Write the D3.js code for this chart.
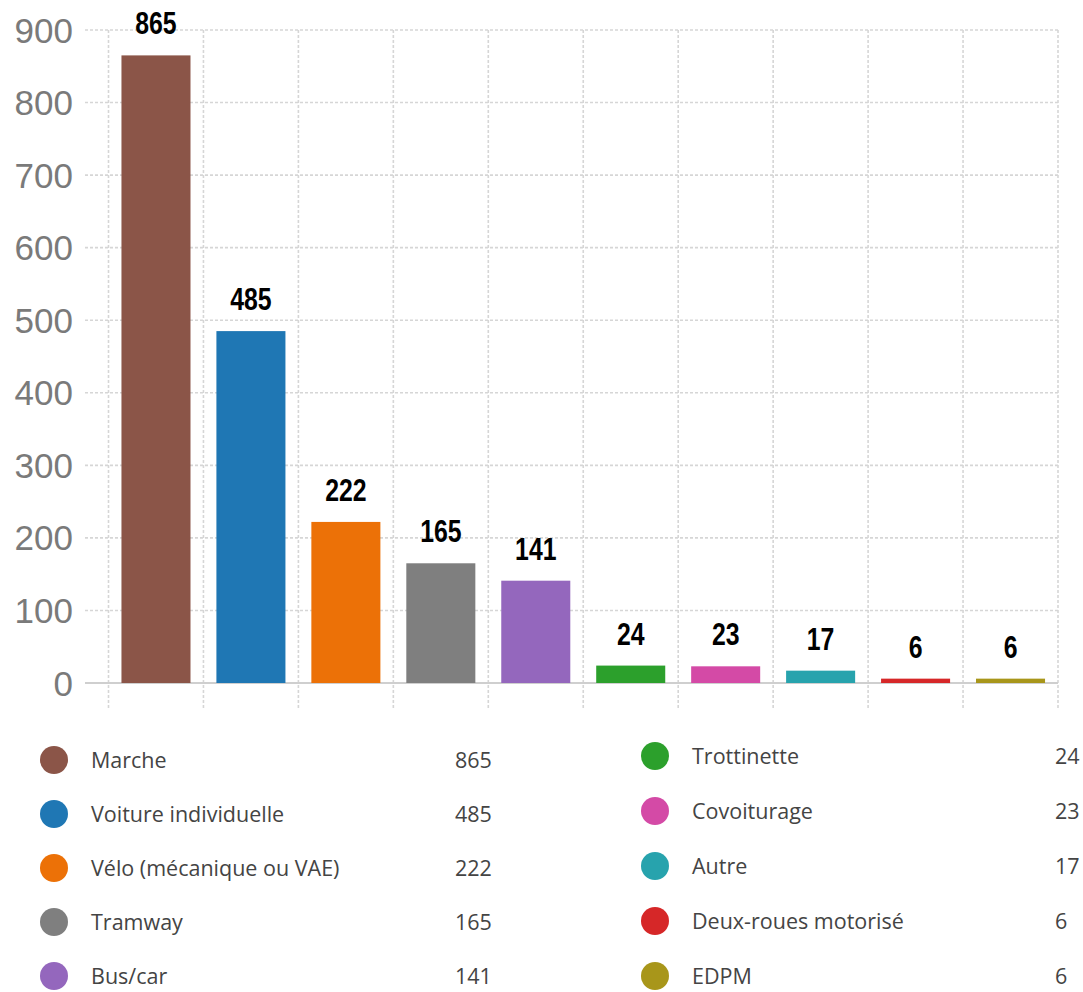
<!DOCTYPE html>
<html>
<head>
<meta charset="utf-8">
<script src="https://cdn.jsdelivr.net/npm/d3@7"></script>
<style>
  html, body { margin: 0; padding: 0; background: #fff; }
  svg { display: block; }
</style>
</head>
<body>
<svg id="chart" width="1083" height="992"></svg>
<script>
const categories = ["Marche", "Voiture individuelle", "Vélo (mécanique ou VAE)", "Tramway", "Bus/car",
                    "Trottinette", "Covoiturage", "Autre", "Deux-roues motorisé", "EDPM"];
const values = [865, 485, 222, 165, 141, 24, 23, 17, 6, 6];
const colors = ["#8b5548", "#1f77b4", "#ec7107", "#7f7f7f", "#9467bd",
                "#2ca02c", "#d44aa6", "#27a3ad", "#d62728", "#a8961a"];
const yTicks = [0, 100, 200, 300, 400, 500, 600, 700, 800, 900];

(function () {
const svg = d3.select("#chart");
const pLeft = 108.5, pRight = 1058, pTop = 30, pBottom = 683;

const x = d3.scaleBand().domain(categories).range([pLeft, pRight])
  .paddingInner(0.273).paddingOuter(0.1365);
const y = d3.scaleLinear().domain([0, 900]).range([pBottom, pTop]);
const step = x.step();
const gap = step - x.bandwidth();

// horizontal gridlines
svg.append("g").selectAll("line").data(yTicks.filter(d => d > 0)).join("line")
  .attr("x1", 85).attr("x2", pRight)
  .attr("y1", d => y(d)).attr("y2", d => y(d))
  .attr("stroke", "#d6d6d6").attr("stroke-width", 1.6).attr("stroke-dasharray", "3,2");

// vertical gridlines at band boundaries
const bounds = categories.map(c => x(c) - gap / 2).concat([pRight]);
svg.append("g").selectAll("line").data(bounds).join("line")
  .attr("x1", d => d).attr("x2", d => d)
  .attr("y1", pTop).attr("y2", pBottom + 25)
  .attr("stroke", "#d6d6d6").attr("stroke-width", 1.6).attr("stroke-dasharray", "3,2");

// baseline axis
svg.append("line").attr("x1", 85).attr("x2", pRight).attr("y1", y(0)).attr("y2", y(0))
  .attr("stroke", "#cfcfcf").attr("stroke-width", 2);

// y tick labels
svg.append("g").selectAll("text").data(yTicks).join("text")
  .attr("x", 73).attr("y", d => y(d)).attr("dy", "0.36em")
  .attr("text-anchor", "end")
  .attr("font-family", "'Liberation Sans', Arial, sans-serif")
  .attr("font-size", 35).attr("fill", "#7a7a7a")
  .text(d => d);

// bars
svg.append("g").selectAll("rect").data(values).join("rect")
  .attr("x", (d, i) => x(categories[i]))
  .attr("width", x.bandwidth())
  .attr("y", d => y(d))
  .attr("height", d => y(0) - y(d))
  .attr("fill", (d, i) => colors[i]);

// value labels (condensed bold look via horizontal scaling)
svg.append("g").selectAll("text").data(values).join("text")
  .attr("transform", (d, i) =>
    `translate(${x(categories[i]) + x.bandwidth() / 2},${y(d) - 21}) scale(0.8,1)`)
  .attr("text-anchor", "middle")
  .attr("font-family", "'Liberation Sans', Arial, sans-serif")
  .attr("font-weight", "bold")
  .attr("font-size", 31).attr("fill", "#000")
  .text(d => d);

// legend
const legendFont = "'Open Sans', 'Noto Sans', sans-serif";
const legend = svg.append("g");
categories.forEach((c, i) => {
  const col = i < 5 ? 0 : 1;
  const row = i % 5;
  const cx = col === 0 ? 54 : 655;
  const cy = (col === 0 ? 760 : 756) + row * (col === 0 ? 54 : 55);
  const g = legend.append("g");
  g.append("circle").attr("cx", cx).attr("cy", cy).attr("r", 14).attr("fill", colors[i]);
  g.append("text").attr("x", cx + 37).attr("y", cy).attr("dy", "0.35em")
    .attr("font-family", legendFont).attr("font-size", 21.5).attr("fill", "#444")
    .text(c);
  g.append("text").attr("x", col === 0 ? 455 : 1055).attr("y", cy).attr("dy", "0.35em")
    .attr("font-family", legendFont).attr("font-size", 21.5).attr("fill", "#444")
    .text(values[i]);
});
})();
</script>
</body>
</html>
